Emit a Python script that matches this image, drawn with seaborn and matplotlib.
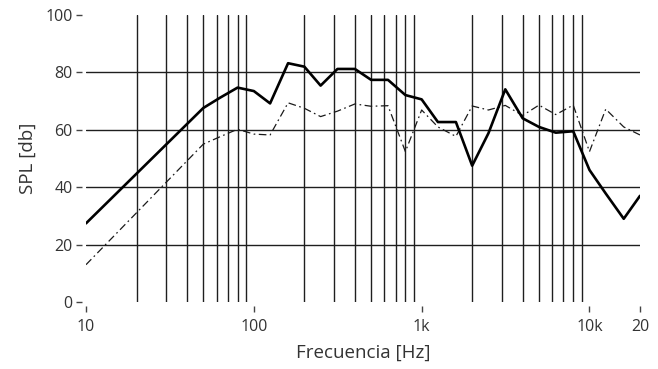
import numpy as np
import pandas as pd
import matplotlib
matplotlib.use("Agg")
import matplotlib.pyplot as plt
import matplotlib.ticker as mticker
import seaborn as sns

freq = [10, 50, 63, 80, 100, 125, 160, 200, 250, 315, 400, 500, 630, 800,
        1000, 1250, 1600, 2000, 2500, 3150, 4000, 5000, 6300, 8000,
        10000, 12500, 16000, 20000]
spl_solid = [27.4, 67.6, 71.2, 74.7, 73.5, 69.2, 83.2, 82.0, 75.4, 81.2, 81.2, 77.4, 77.4, 72.1,
             70.6, 62.7, 62.7, 47.5, 58.8, 74.1, 64.0, 61.0, 59.0, 59.5,
             46.0, 37.8, 29.0, 37.0]
spl_dashed = [13.0, 55.0, 57.6, 60.2, 58.5, 58.2, 69.4, 67.5, 64.6, 66.5, 69.0, 68.2, 68.4, 52.4,
              66.9, 61.0, 57.7, 68.3, 66.9, 68.5, 65.0, 68.6, 65.3, 68.6,
              52.4, 67.2, 61.0, 58.2]

xtick_vals = [10, 100, 1000, 10000, 20000]
xtick_labels = ["10", "100", "1k", "10k", "20"]
ytick_vals = [0, 20, 40, 60, 80, 100]
ygrid_vals = [20, 40, 60, 80]
xgrid_vals = [m * d for d in (10, 100, 1000) for m in range(2, 10)]

sns.set_style("white")
plt.rcParams["font.family"] = ["Open Sans", "DejaVu Sans"]
plt.rcParams["lines.scale_dashes"] = False

df = pd.DataFrame({"freq": freq, "solid": spl_solid, "dashed": spl_dashed})

fig = plt.figure(figsize=(6.58, 3.69), dpi=100)
ax = fig.add_axes([86 / 658, 1 - 302 / 369, (640 - 86) / 658, (302 - 15) / 369])

sns.lineplot(data=df, x="freq", y="dashed", ax=ax, color="#1a1a1a", linewidth=0.9,
             zorder=3)
ax.lines[-1].set_dashes([5.5, 2.5, 1.2, 2.5])
sns.lineplot(data=df, x="freq", y="solid", ax=ax, color="black", linewidth=1.9, zorder=4)

ax.set_xscale("log")
ax.set_xlim(10, 20000)
ax.set_ylim(0, 100)

ax.xaxis.set_major_locator(mticker.FixedLocator(xtick_vals))
ax.xaxis.set_major_formatter(mticker.FixedFormatter(xtick_labels))
ax.xaxis.set_minor_locator(mticker.FixedLocator(xgrid_vals))
ax.xaxis.set_minor_formatter(mticker.NullFormatter())
ax.yaxis.set_major_locator(mticker.FixedLocator(ytick_vals))
ax.yaxis.set_minor_locator(mticker.FixedLocator(ygrid_vals))
ax.yaxis.remove_overlapping_locs = False
ax.yaxis.set_minor_formatter(mticker.NullFormatter())

ax.grid(False)
ax.grid(True, which="minor", axis="both", color="#1f1f1f", linewidth=1.0)
ax.set_axisbelow(True)

for s in ax.spines.values():
    s.set_visible(False)
ax.spines["left"].set_position(("outward", 3))
ax.spines["bottom"].set_position(("outward", 3))

ax.tick_params(axis="both", which="minor", length=0)
ax.tick_params(axis="both", which="major", length=4.5, width=1.0, color="#444444",
               labelsize=11.5, labelcolor="#333333", pad=2, direction="out",
               left=True, bottom=True)
ax.tick_params(axis="x", which="major", pad=5)

ax.set_xlabel("Frecuencia [Hz]", fontsize=13.5, color="#333333", labelpad=6)
ax.set_ylabel("SPL [db]", fontsize=13.5, color="#333333", labelpad=6)

fig.savefig("out.png", dpi=100)
